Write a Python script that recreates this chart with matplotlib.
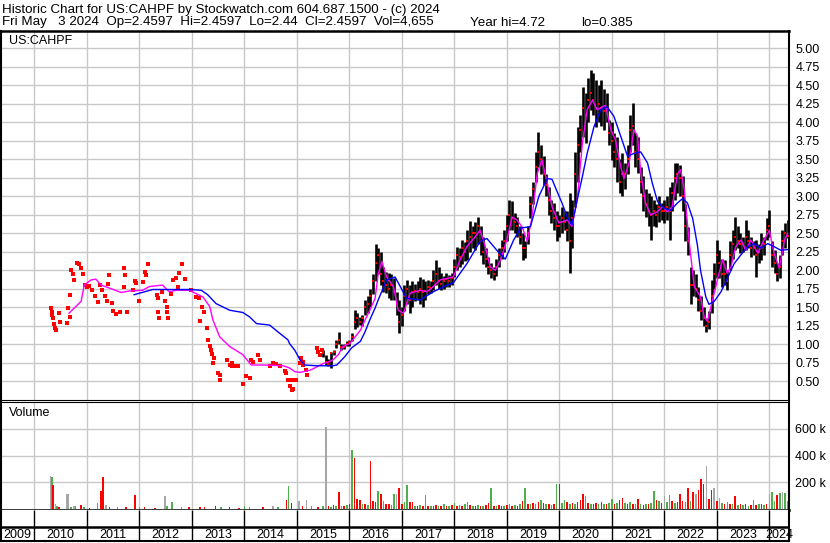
import numpy as np
import matplotlib.pyplot as plt

plt.rcParams['font.family'] = ['Liberation Sans', 'DejaVu Sans']
plt.rcParams['font.size'] = 9

# ---- thin trading 2010-2015: single trades (decimal year, price)
early_t = [2010.32, 2010.33, 2010.34, 2010.36, 2010.38, 2010.40, 2010.41, 2010.47, 2010.49,
           2010.62, 2010.64, 2010.68, 2010.68, 2010.70, 2010.74, 2010.76, 2010.82, 2010.85,
           2010.89, 2010.93, 2010.97, 2011.01, 2011.04, 2011.10, 2011.16, 2011.22, 2011.25,
           2011.29, 2011.35, 2011.39, 2011.41, 2011.43, 2011.48, 2011.50, 2011.56, 2011.63,
           2011.71, 2011.72, 2011.71, 2011.76, 2011.87, 2011.92, 2011.93, 2012.00, 2012.06,
           2012.10, 2012.13, 2012.17, 2012.34, 2012.36, 2012.36, 2012.38, 2012.43, 2012.48,
           2012.53, 2012.53, 2012.54, 2012.61, 2012.65, 2012.70, 2012.73, 2012.76, 2012.82,
           2012.87, 2012.99, 2013.08, 2013.13, 2013.16, 2013.20, 2013.24, 2013.28, 2013.30,
           2013.34, 2013.37, 2013.39, 2013.40, 2013.43, 2013.49, 2013.53, 2013.54, 2013.66,
           2013.72, 2013.76, 2013.77, 2013.81, 2013.87, 2013.97, 2014.04, 2014.10, 2014.13,
           2014.16, 2014.26, 2014.29, 2014.48, 2014.54, 2014.60, 2014.67, 2014.77, 2014.80,
           2014.83, 2014.86, 2014.90, 2014.90, 2014.92, 2014.99, 2015.06, 2015.08, 2015.11,
           2015.12, 2015.18, 2015.19, 2015.39, 2015.41, 2015.44, 2015.47]
early_p = [1.49, 1.44, 1.40, 1.35, 1.28, 1.22, 1.19, 1.42, 1.30,
           1.29, 1.49, 1.37, 1.67, 2.00, 1.95, 1.87, 2.10, 2.09,
           2.03, 1.95, 1.80, 1.77, 1.79, 1.73, 1.65, 1.57, 1.80,
           1.73, 1.65, 1.58, 1.81, 1.94, 1.56, 1.45, 1.41, 1.43,
           2.03, 1.94, 1.78, 1.43, 1.73, 1.85, 1.83, 1.59, 1.84,
           1.98, 1.94, 2.09, 1.67, 1.62, 1.44, 1.35, 1.71, 1.58,
           1.51, 1.44, 1.35, 1.68, 1.87, 1.90, 1.78, 1.97, 2.09,
           1.88, 1.73, 1.64, 1.63, 1.32, 1.51, 1.43, 1.22, 1.06,
           0.98, 0.92, 0.87, 0.75, 0.81, 0.61, 0.52, 0.59, 0.79,
           0.72, 0.75, 0.70, 0.70, 0.70, 0.46, 0.57, 0.55, 0.79,
           0.76, 0.86, 0.79, 0.70, 0.75, 0.73, 0.71, 0.64, 0.61,
           0.52, 0.43, 0.38, 0.52, 0.40, 0.52, 0.75, 0.81, 0.76,
           0.72, 0.65, 0.58, 0.95, 0.90, 0.86, 0.92]

# ---- active trading: one bar every 0.05 yr from mid 2015
bar_start, bar_step = 2015.50, 0.05
bar_hi = [0.92, 0.85, 0.80, 0.90, 0.92, 1.06, 1.17, 1.00, 1.00, 1.04,
          1.06, 1.15, 1.46, 1.42, 1.37, 1.40, 1.60, 1.65, 1.75, 1.95, 2.36, 2.30, 2.25, 2.05, 1.98, 1.96, 1.95, 1.90, 1.70, 1.60,  # 2016
          1.50, 1.80, 1.87, 1.80, 1.85, 1.82, 1.86, 1.91, 1.88, 1.85, 1.87, 1.85, 2.00, 2.14, 2.05, 1.96, 1.92, 1.96, 1.94, 1.96,  # 2017
          2.15, 2.32, 2.30, 2.41, 2.38, 2.55, 2.66, 2.60, 2.65, 2.72, 2.60, 2.45, 2.30, 2.18, 2.10, 2.05, 2.15, 2.30, 2.41, 2.55,  # 2018
          2.75, 2.95, 2.93, 2.77, 2.72, 2.60, 2.50, 2.40, 2.60, 3.00, 3.20, 3.60, 3.87, 3.70, 3.55, 3.30, 3.13, 2.95, 2.91, 2.80,  # 2019
          2.75, 2.86, 2.80, 2.80, 3.04, 2.95, 3.60, 3.94, 4.10, 4.48, 4.40, 4.60, 4.71, 4.66, 4.57, 4.50, 4.57, 4.45, 4.40, 4.03,  # 2020
          4.00, 3.86, 3.80, 3.50, 3.58, 3.45, 3.70, 4.10, 4.26, 3.86, 3.80, 3.40, 3.27, 3.10, 3.04, 3.00, 2.95, 2.90, 3.00, 2.91,  # 2021
          2.95, 3.00, 3.13, 3.20, 3.45, 3.45, 3.42, 3.27, 2.90, 2.59, 2.05, 2.00, 1.95, 1.78, 1.65, 1.51, 1.35, 1.45, 1.87, 2.10,  # 2022
          2.41, 2.27, 2.15, 2.14, 2.00, 2.40, 2.54, 2.72, 2.60, 2.50, 2.45, 2.68, 2.55, 2.45, 2.40, 2.41, 2.35, 2.50, 2.45, 2.70,  # 2023
          2.81, 2.40, 2.27, 2.10, 2.20, 2.55, 2.64, 2.68]
bar_lo = [0.83, 0.72, 0.70, 0.68, 0.86, 0.95, 1.01, 0.92, 0.94, 0.98,
          0.98, 1.05, 1.20, 1.24, 1.26, 1.25, 1.40, 1.42, 1.50, 1.68, 1.85, 1.95, 1.80, 1.70, 1.69, 1.62, 1.60, 1.60, 1.40, 1.15,
          1.25, 1.45, 1.55, 1.42, 1.50, 1.58, 1.60, 1.55, 1.51, 1.60, 1.68, 1.69, 1.73, 1.80, 1.75, 1.73, 1.75, 1.78, 1.78, 1.80,
          1.91, 2.00, 2.05, 2.09, 2.12, 2.14, 2.25, 2.30, 2.27, 2.35, 2.20, 2.09, 2.05, 1.95, 1.90, 1.87, 1.92, 2.05, 2.15, 2.25,
          2.40, 2.55, 2.55, 2.50, 2.45, 2.35, 2.14, 2.17, 2.35, 2.70, 2.90, 3.20, 3.40, 3.30, 3.15, 3.00, 2.75, 2.64, 2.55, 2.40,
          2.45, 2.50, 2.55, 2.40, 1.96, 2.30, 2.86, 3.20, 3.60, 3.80, 3.72, 4.00, 4.17, 4.10, 3.94, 4.00, 3.95, 3.90, 4.00, 3.70,
          3.49, 3.40, 3.20, 3.04, 3.00, 3.10, 3.30, 3.60, 3.70, 3.40, 3.31, 3.05, 2.80, 2.72, 2.60, 2.41, 2.60, 2.59, 2.65, 2.68,
          2.64, 2.68, 2.41, 2.80, 2.95, 3.05, 3.00, 2.80, 2.40, 2.20, 1.55, 1.65, 1.64, 1.45, 1.33, 1.25, 1.16, 1.20, 1.42, 1.75,
          1.90, 1.90, 1.78, 1.80, 1.73, 2.00, 2.15, 2.27, 2.30, 2.23, 2.25, 2.27, 2.30, 2.18, 2.20, 1.91, 2.10, 2.14, 2.20, 2.41,
          2.45, 2.05, 1.96, 1.86, 1.90, 2.20, 2.30, 2.44]
bar_cl = [0.88, 0.76, 0.74, 0.88, 0.90, 1.01, 1.06, 0.97, 0.97, 1.00,
          1.03, 1.10, 1.30, 1.35, 1.30, 1.35, 1.50, 1.55, 1.65, 1.85, 2.10, 2.20, 1.95, 1.85, 1.80, 1.75, 1.80, 1.70, 1.55, 1.30,
          1.40, 1.65, 1.75, 1.60, 1.70, 1.72, 1.70, 1.75, 1.70, 1.72, 1.78, 1.76, 1.85, 1.95, 1.85, 1.82, 1.85, 1.88, 1.86, 1.90,
          2.05, 2.20, 2.18, 2.30, 2.25, 2.40, 2.45, 2.50, 2.50, 2.60, 2.40, 2.25, 2.15, 2.05, 2.00, 1.95, 2.05, 2.20, 2.30, 2.40,
          2.60, 2.75, 2.70, 2.65, 2.60, 2.45, 2.30, 2.30, 2.50, 2.90, 3.10, 3.40, 3.60, 3.50, 3.30, 3.15, 2.95, 2.80, 2.70, 2.60,
          2.60, 2.70, 2.65, 2.55, 2.40, 2.70, 3.30, 3.70, 3.90, 4.20, 4.10, 4.30, 4.40, 4.30, 4.20, 4.25, 4.20, 4.15, 4.20, 3.85,
          3.75, 3.60, 3.50, 3.20, 3.30, 3.30, 3.50, 3.90, 3.95, 3.60, 3.50, 3.20, 3.00, 2.90, 2.80, 2.75, 2.80, 2.75, 2.85, 2.80,
          2.80, 2.85, 2.80, 3.05, 3.25, 3.30, 3.25, 3.00, 2.60, 2.40, 1.80, 1.80, 1.75, 1.60, 1.45, 1.35, 1.25, 1.30, 1.65, 1.95,
          2.20, 2.10, 1.95, 1.95, 1.85, 2.20, 2.35, 2.45, 2.40, 2.35, 2.35, 2.45, 2.40, 2.30, 2.30, 2.20, 2.25, 2.30, 2.35, 2.55,
          2.60, 2.20, 2.10, 1.95, 2.05, 2.40, 2.50, 2.46]

# volume (thousands) per bar, colour: g up, r down, k unchanged
bar_vol = [25, 615, 20, 15, 30, 20, 128, 25, 20, 30,
           40, 442, 385, 75, 70, 40, 35, 30, 360, 60, 55, 135, 115, 60, 40, 35, 30, 110, 110, 155,
           40, 50, 180, 55, 50, 25, 20, 30, 20, 105, 20, 25, 20, 30, 25, 20, 40, 25, 20, 30,
           45, 25, 30, 25, 35, 55, 30, 25, 20, 30, 25, 20, 30, 45, 155, 25, 20, 30, 25, 20,
           30, 35, 25, 30, 25, 40, 60, 155, 35, 40, 45, 40, 50, 65, 45, 35, 40, 30, 35, 185,
           190, 45, 70, 55, 40, 45, 35, 50, 65, 112, 100, 45, 40, 35, 45, 40, 55, 35, 40, 45,
           75, 40, 45, 70, 80, 45, 40, 50, 35, 40, 75, 35, 30, 40, 35, 45, 135, 70, 60, 45,
           100, 50, 105, 60, 45, 55, 110, 60, 50, 160, 60, 125, 110, 140, 225, 185, 322, 75, 140, 155,
           60, 80, 45, 40, 55, 35, 40, 100, 30, 35, 30, 40, 25, 30, 65, 30, 35, 40, 30, 35,
           115, 125, 60, 105, 120, 125, 120, 60]
bar_vcol = ("gkrgrgrgrg" "rgrrrgrgrrrgrgrrggkr" "rggrrgrgrgrgrrgrgrgr" "grgrggrgrgrgrrgrgrrg"
            "rgrgrgrgrgrgrgrgrgrg" "rggrgrgrrrgrgrrgrgrg" "grgrrgrgrgrgrgrggrgr" "kggrgrrrgrgrkrrrkrrk"
            "rkgrgrgrgrgrgrgrgrgr" "kggrgkgg")

early_vt = [2010.31, 2010.34, 2010.36, 2010.40, 2010.43, 2010.47, 2010.61, 2010.64, 2010.70, 2010.76,
            2010.78, 2010.89, 2010.95, 2011.05, 2011.20, 2011.27, 2011.31, 2011.36, 2011.43, 2011.58,
            2011.75, 2011.92, 2012.00, 2012.10, 2012.30, 2012.49, 2012.53, 2012.62, 2012.80, 2012.95,
            2013.15, 2013.24, 2013.45, 2013.56, 2013.72, 2013.90, 2014.00, 2014.10, 2014.35, 2014.54,
            2014.64, 2014.80, 2014.84, 2014.90, 2015.04, 2015.11, 2015.18, 2015.28, 2015.40]
early_v = [247, 240, 180, 40, 20, 15, 110, 115, 15, 25,
           20, 30, 15, 10, 45, 135, 240, 30, 15, 15,
           15, 105, 15, 15, 10, 100, 20, 50, 15, 15,
           15, 12, 25, 12, 12, 10, 20, 15, 12, 25,
           15, 65, 172, 45, 60, 20, 70, 20, 15]
early_vcol = ("kgrkgrkkgk" "grgrgrrkrg" "rrgrrkgggr" "rrrgrrggrk" "grgrkrkgr")

# moving averages
ma_fast_t = [2010.66, 2010.89, 2010.95, 2011.08, 2011.17, 2011.27, 2011.43, 2011.65, 2011.81, 2012.06,
             2012.19, 2012.44, 2012.57, 2012.70, 2012.95, 2013.21, 2013.34, 2013.40, 2013.53, 2013.72,
             2013.97, 2014.13, 2014.35, 2014.74, 2014.86, 2014.96, 2015.06, 2015.25, 2015.34, 2015.50,
             2015.60, 2015.69, 2015.79, 2015.88, 2016.01, 2016.11, 2016.21, 2016.30, 2016.39, 2016.49,
             2016.55, 2016.62, 2016.71, 2016.84, 2016.93, 2017.03, 2017.16, 2017.35, 2017.48, 2017.60,
             2017.73, 2017.86, 2017.98, 2018.11, 2018.24, 2018.37, 2018.49, 2018.59, 2018.68, 2018.78,
             2018.88, 2019.00, 2019.10, 2019.19, 2019.29, 2019.39, 2019.48, 2019.58, 2019.67, 2019.77,
             2019.86, 2019.99, 2020.15, 2020.24, 2020.34, 2020.44, 2020.53, 2020.63, 2020.72, 2020.82,
             2020.88, 2020.98, 2021.07, 2021.17, 2021.23, 2021.33, 2021.42, 2021.49, 2021.55, 2021.64,
             2021.74, 2021.87, 2021.96, 2022.06, 2022.15, 2022.25, 2022.31, 2022.38, 2022.47, 2022.57,
             2022.69, 2022.76, 2022.82, 2022.92, 2023.01, 2023.11, 2023.20, 2023.27, 2023.36, 2023.46,
             2023.55, 2023.65, 2023.78, 2023.90, 2024.00, 2024.09, 2024.19, 2024.29, 2024.35]
ma_fast_p = [1.42, 1.58, 1.80, 1.87, 1.88, 1.80, 1.76, 1.70, 1.72, 1.73,
             1.78, 1.80, 1.71, 1.73, 1.73, 1.64, 1.51, 1.33, 1.10, 0.97,
             0.86, 0.72, 0.72, 0.71, 0.68, 0.63, 0.62, 0.65, 0.68, 0.74,
             0.76, 0.79, 0.86, 0.97, 1.01, 1.10, 1.19, 1.33, 1.46, 1.62,
             1.95, 2.12, 1.91, 1.78, 1.46, 1.42, 1.69, 1.73, 1.71, 1.78,
             1.87, 1.89, 1.91, 2.14, 2.32, 2.43, 2.54, 2.32, 2.05, 2.00,
             2.14, 2.41, 2.72, 2.68, 2.59, 2.39, 2.72, 3.31, 3.49, 3.18,
             2.86, 2.64, 2.68, 2.59, 2.95, 3.72, 4.17, 4.30, 4.17, 4.21,
             4.23, 3.90, 3.76, 3.40, 3.24, 3.45, 3.90, 3.81, 3.33, 2.91,
             2.75, 2.79, 2.86, 2.79, 2.86, 3.30, 3.36, 3.09, 2.41, 1.78,
             1.64, 1.37, 1.31, 1.60, 1.87, 2.14, 1.96, 2.05, 2.32, 2.41,
             2.27, 2.41, 2.23, 2.41, 2.54, 2.23, 2.03, 2.41, 2.50]
ma_slow_t = [2011.90, 2012.25, 2012.95, 2013.18, 2013.30, 2013.46, 2013.72, 2013.97, 2014.10, 2014.23,
             2014.48, 2014.67, 2014.83, 2014.86, 2014.96, 2015.06, 2015.15, 2015.37, 2015.69, 2015.76,
             2015.91, 2016.04, 2016.21, 2016.30, 2016.39, 2016.49, 2016.55, 2016.71, 2016.87, 2016.97,
             2017.09, 2017.35, 2017.60, 2017.86, 2017.98, 2018.24, 2018.49, 2018.62, 2018.81, 2018.97,
             2019.13, 2019.26, 2019.45, 2019.61, 2019.77, 2019.86, 2019.96, 2020.05, 2020.15, 2020.24,
             2020.34, 2020.44, 2020.53, 2020.66, 2020.79, 2020.91, 2021.04, 2021.17, 2021.30, 2021.42,
             2021.55, 2021.68, 2021.77, 2021.87, 2021.99, 2022.12, 2022.25, 2022.35, 2022.44, 2022.54,
             2022.63, 2022.69, 2022.79, 2022.85, 2022.95, 2023.08, 2023.20, 2023.33, 2023.46, 2023.59,
             2023.71, 2023.84, 2023.97, 2024.09, 2024.22, 2024.35]
ma_slow_p = [1.67, 1.74, 1.74, 1.73, 1.67, 1.55, 1.46, 1.43, 1.37, 1.28,
             1.26, 1.15, 1.06, 1.01, 0.92, 0.79, 0.72, 0.71, 0.71, 0.72,
             0.83, 0.95, 1.04, 1.17, 1.33, 1.49, 1.60, 1.87, 1.91, 1.78,
             1.62, 1.60, 1.71, 1.80, 1.83, 2.09, 2.39, 2.43, 2.27, 2.15,
             2.41, 2.57, 2.59, 3.00, 3.24, 3.23, 3.06, 2.91, 2.72, 2.61,
             2.95, 3.27, 3.58, 3.94, 4.17, 4.21, 4.08, 3.81, 3.54, 3.58,
             3.60, 3.45, 3.18, 2.93, 2.84, 2.81, 2.91, 2.97, 2.91, 2.70,
             2.34, 2.00, 1.64, 1.54, 1.58, 1.71, 1.89, 2.09, 2.21, 2.32,
             2.36, 2.30, 2.36, 2.32, 2.27, 2.28]

header1 = "Historic Chart for US:CAHPF by Stockwatch.com 604.687.1500 - (c) 2024"
header2 = "Fri May   3 2024  Op=2.4597  Hi=2.4597  Lo=2.44  Cl=2.4597  Vol=4,655"
header2b = "Year hi=4.72"
header2c = "lo=0.385"

bar_t = bar_start + bar_step * np.arange(len(bar_hi))
pal = {'g': '#4cb04c', 'r': '#ff0000', 'k': '#a6a6a6'}
grid_c = '#c8c8c8'
t0, t1 = 2009.364, 2024.375
years = np.arange(2010, 2025)

W, H = 830, 543
def box(x0, y0, x1, y1):
    return [x0 / W, 1 - y1 / H, (x1 - x0) / W, (y1 - y0) / H]

fig = plt.figure(figsize=(W / 100, H / 100), dpi=100)
axp = fig.add_axes(box(1, 31, 789, 400))
axv = fig.add_axes(box(1, 402, 789, 510))
axd = fig.add_axes(box(1, 510, 789, 541))

# price panel
axp.set_xlim(t0, t1)
axp.set_ylim(0.247, 5.234)
axp.set_xticks(years)
axp.set_yticks(np.arange(0.5, 5.01, 0.25))
axp.set_yticklabels([f'{v:.2f}' for v in np.arange(0.5, 5.01, 0.25)])
axp.grid(True, color=grid_c, lw=1.0, zorder=0)
axp.set_axisbelow(True)
axp.vlines(bar_t, bar_lo, bar_hi, color='black', lw=1.9, zorder=2)
axp.plot(bar_t, bar_cl, 's', color='red', ms=2.0, mew=0, zorder=3)
axp.plot(early_t, early_p, 's', color='red', ms=2.6, mew=0, zorder=3)
axp.plot(ma_fast_t, ma_fast_p, color='#ff00ff', lw=1.0, zorder=4)
axp.plot(ma_slow_t, ma_slow_p, color='#0000ff', lw=1.0, zorder=5)

# volume panel
axv.set_xlim(t0, t1)
axv.set_ylim(-7.5, 802)
axv.set_xticks(years)
axv.set_yticks([200, 400, 600])
axv.set_yticklabels(['200 k', '400 k', '600 k'])
axv.grid(True, color=grid_c, lw=1.0, zorder=0)
axv.set_axisbelow(True)
axv.bar(bar_t, bar_vol, width=0.03, color=[pal[c] for c in bar_vcol], zorder=2)
axv.bar(early_vt, early_v, width=0.03, color=[pal[c] for c in early_vcol], zorder=2)

for ax in (axp, axv):
    ax.yaxis.tick_right()
    ax.tick_params(length=0, labelbottom=False, pad=4.5, labelsize=9)
    for s in ('left', 'right'):
        ax.spines[s].set_linewidth(1.5)
axp.spines['top'].set_linewidth(1.8)
axp.spines['bottom'].set_linewidth(0.8)
axv.spines['top'].set_linewidth(0.8)
axv.spines['bottom'].set_linewidth(1.8)

# date strip
axd.set_xlim(t0, t1)
axd.set_ylim(0, 1)
axd.set_xticks([])
axd.set_yticks([])
axd.vlines(years, 0, 1, color='black', lw=1.0)
axd.axhline(14 / 31, color='black', lw=1.8)
for s in ('left', 'right', 'bottom'):
    axd.spines[s].set_linewidth(1.5)
axd.spines['top'].set_visible(False)
for yr in range(2009, 2025):
    a, b = max(yr, t0), min(yr + 1, t1)
    axd.text((a + b) / 2, 6.5 / 31, str(yr), ha='center', va='center', fontsize=9)

fig.text(2 / W, 1 - 10 / H, header1, va='center', fontsize=9.6)
fig.text(2 / W, 1 - 22.5 / H, header2, va='center', fontsize=9.6)
fig.text(470 / W, 1 - 22.5 / H, header2b, va='center', fontsize=9.6)
fig.text(581 / W, 1 - 22.5 / H, header2c, va='center', fontsize=9.6)
fig.text(9 / W, 1 - 41.5 / H, 'US:CAHPF', va='center', fontsize=9)
fig.text(9 / W, 1 - 413.5 / H, 'Volume', va='center', fontsize=9)

fig.savefig('out.png', dpi=100)
